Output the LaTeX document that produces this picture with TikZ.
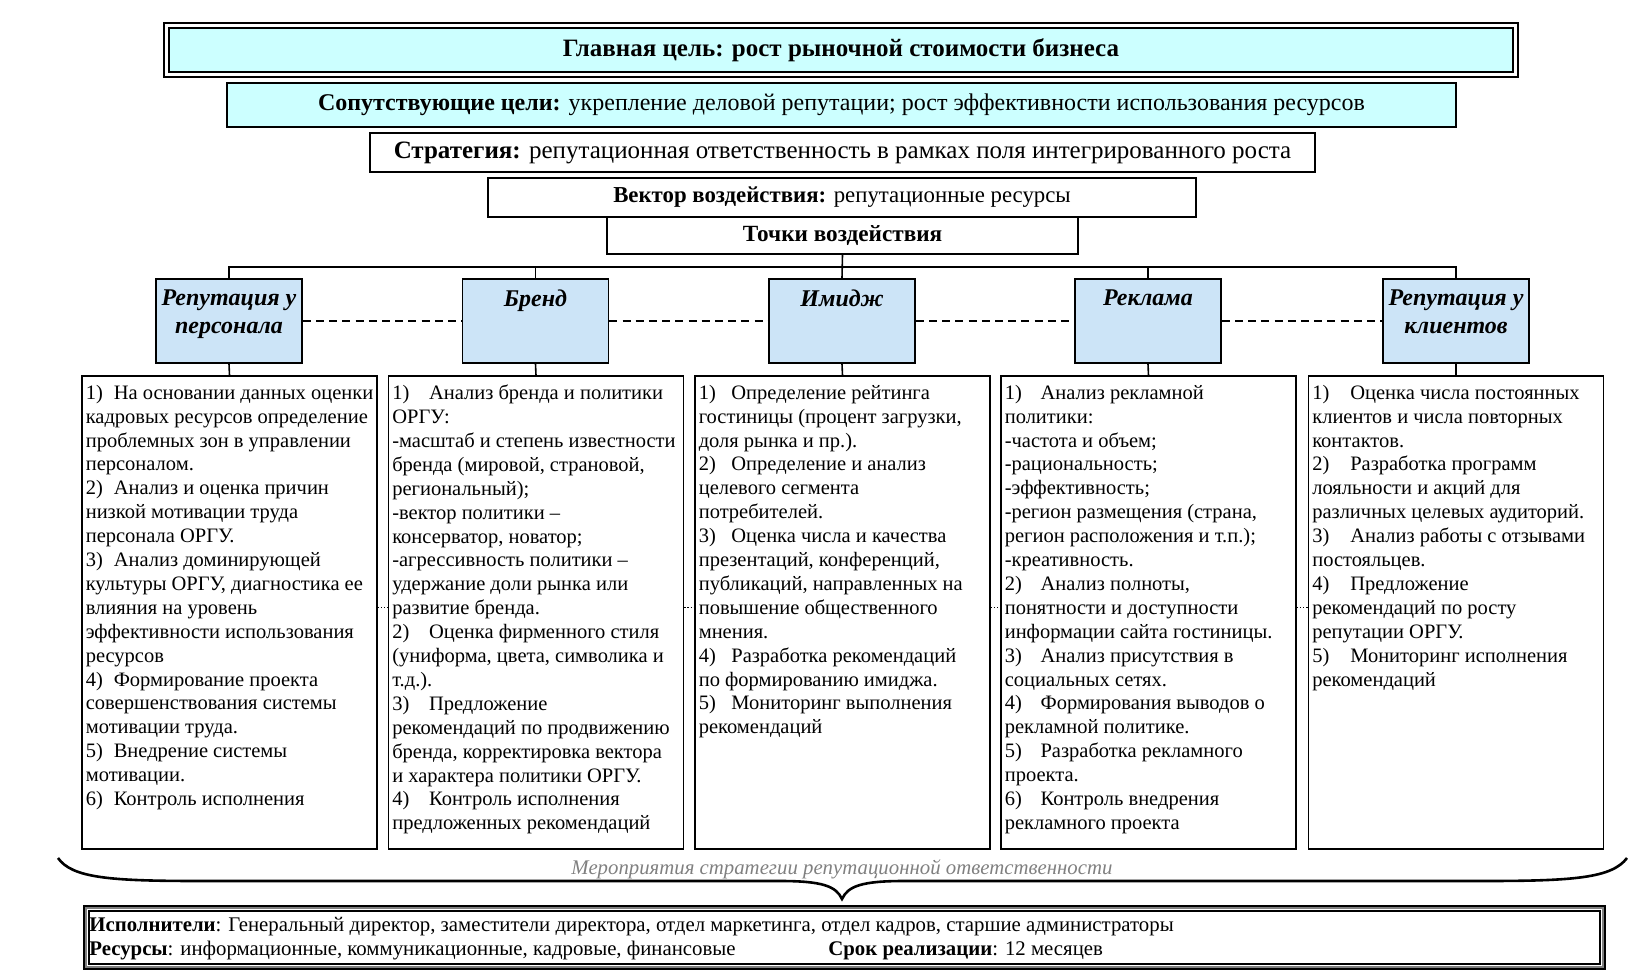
\documentclass[tikz,border=0pt]{standalone}
\usepackage{fontspec}
\setmainfont{Liberation Serif}
\usetikzlibrary{positioning}

\definecolor{goalcyan}{HTML}{CCFFFF}
\definecolor{pointblue}{HTML}{CCE4F7}
\definecolor{bracegray}{HTML}{808080}

% number of a list item, set in a box of fixed width
\newcommand{\itm}[2]{\makebox[#1][l]{#2)}}

\begin{document}
\begin{tikzpicture}[x=0.5pt,y=-0.5pt,
  hdrbox/.style={draw,inner sep=0pt,font=\fontsize{12}{14}\selectfont},
  ptbox/.style={draw,line width=0.8pt,fill=pointblue,inner sep=0pt,minimum width=73pt,minimum height=42pt},
  ptlabel/.style={align=center,inner sep=0pt,font=\fontsize{12}{14}\selectfont\bfseries\itshape},
  actbox/.style={draw,line width=0.6pt,inner sep=0pt,minimum width=147.5pt,minimum height=236.5pt},
  acttext/.style={anchor=north west,align=left,inner sep=2pt,yshift=-2.6pt,font=\fontsize{10.25}{11.95}\selectfont},
  link/.style={line width=0.8pt},
  dotlink/.style={line width=0.6pt,dash pattern=on 0.7pt off 0.9pt},
  dashlink/.style={line width=0.9pt,dash pattern=on 4pt off 2.6pt},
  restext/.style={anchor=west,inner sep=0pt,font=\fontsize{10.4}{12}\selectfont}]
\useasboundingbox (0,0) rectangle (1651,975);

% goals and strategy
\node[hdrbox,line width=0.6pt,fill=goalcyan,minimum width=672pt,minimum height=22pt,font=\fontsize{12.5}{14}\selectfont] (goal) at (841,50)
  {\textbf{Главная цель: рост рыночной стоимости бизнеса}};
\draw[line width=1.2pt] ([shift={(-2.2pt,2.2pt)}]goal.north west) rectangle ([shift={(2.2pt,-2.2pt)}]goal.south east);
\node[hdrbox,line width=1pt,fill=goalcyan,minimum width=614.5pt,minimum height=22pt] (cogoal) at (841.5,105)
  {\textbf{Сопутствующие цели:} укрепление деловой репутации; рост эффективности использования ресурсов};
\node[hdrbox,line width=0.8pt,fill=white,minimum width=472.5pt,minimum height=19.5pt,font=\fontsize{12.5}{14}\selectfont] (strat) at (842.5,152.5)
  {\textbf{Стратегия:} репутационная ответственность в рамках поля интегрированного роста};
\node[hdrbox,line width=0.6pt,fill=white,minimum width=354pt,minimum height=19.5pt,font=\fontsize{11.4}{13}\selectfont] (vect) at (842,197.5)
  {\textbf{Вектор воздействия:} репутационные ресурсы};
\node[hdrbox,line width=0.6pt,fill=white,minimum width=235.5pt,minimum height=18.5pt,font=\fontsize{11.6}{13}\selectfont] (pts) at (842.5,235.5)
  {\textbf{Точки воздействия}};

% points of influence
\node[ptbox] (p1) at (229,321) {};
\node[ptbox] (p2) at (535.5,321) {};
\node[ptbox] (p3) at (842,321) {};
\node[ptbox] (p4) at (1148,321) {};
\node[ptbox] (p5) at (1456,321) {};
\node[ptlabel,below=5.5pt of p1.north] (l1) {Репутация у\\персонала};
\node[ptlabel,below=5.5pt of p2.north] (l2) {Бренд};
\node[ptlabel,below=5.5pt of p3.north] (l3) {Имидж};
\node[ptlabel,below=5.5pt of p4.north] (l4) {Реклама};
\node[ptlabel,below=5.5pt of p5.north] (l5) {Репутация у\\клиентов};

\coordinate (bus) at (0,267);
\draw[link] (pts.south) -- (p3.north);
\draw[link] (p1.north) -- (p1.north |- bus) -- (p5.north |- bus) -- (p5.north);
\draw[link] (p2.north) -- (p2.north |- bus);
\draw[link] (p4.north) -- (p4.north |- bus);
\draw[dashlink] (p1.east) -- (p2.west);
\draw[dashlink] (p2.east) -- (p3.west);
\draw[dashlink] (p3.east) -- (p4.west);
\draw[dashlink] (p4.east) -- (p5.west);

% measures
\node[actbox] (a1) at (229.5,612.5) {};
\node[actbox] (a2) at (536,612.5) {};
\node[actbox] (a3) at (842.5,612.5) {};
\node[actbox] (a4) at (1148.5,612.5) {};
\node[actbox] (a5) at (1456,612.5) {};
\foreach \i in {1,...,5}
  \draw[link] (p\i.south) -- (a\i.north);
\draw[dotlink] ([yshift=2.7pt]a1.east) -- ([yshift=2.7pt]a2.west);
\draw[dotlink] ([yshift=2.7pt]a2.east) -- ([yshift=2.7pt]a3.west);
\draw[dotlink] ([yshift=2.7pt]a3.east) -- ([yshift=2.7pt]a4.west);
\draw[dotlink] ([yshift=2.7pt]a4.east) -- ([yshift=2.7pt]a5.west);

\node[acttext] (t1) at (a1.north west) {%
\itm{14pt}{1}На основании данных оценки\\
кадровых ресурсов определение\\
проблемных зон в управлении\\
персоналом.\\
\itm{14pt}{2}Анализ и оценка причин\\
низкой мотивации труда\\
персонала ОРГУ.\\
\itm{14pt}{3}Анализ доминирующей\\
культуры ОРГУ, диагностика ее\\
влияния на уровень\\
эффективности использования\\
ресурсов\\
\itm{14pt}{4}Формирование проекта\\
совершенствования системы\\
мотивации труда.\\
\itm{14pt}{5}Внедрение системы\\
мотивации.\\
\itm{14pt}{6}Контроль исполнения};
\node[acttext] (t2) at (a2.north west) {%
\itm{18.4pt}{1}Анализ бренда и политики\\
ОРГУ:\\
-масштаб и степень известности\\
бренда (мировой, страновой,\\
региональный);\\
-вектор политики –\\
консерватор, новатор;\\
-агрессивность политики –\\
удержание доли рынка или\\
развитие бренда.\\
\itm{18.4pt}{2}Оценка фирменного стиля\\
(униформа, цвета, символика и\\
т.д.).\\
\itm{18.4pt}{3}Предложение\\
рекомендаций по продвижению\\
бренда, корректировка вектора\\
и характера политики ОРГУ.\\
\itm{18.4pt}{4}Контроль исполнения\\
предложенных рекомендаций};
\node[acttext] (t3) at (a3.north west) {%
\itm{16.3pt}{1}Определение рейтинга\\
гостиницы (процент загрузки,\\
доля рынка и пр.).\\
\itm{16.3pt}{2}Определение и анализ\\
целевого сегмента\\
потребителей.\\
\itm{16.3pt}{3}Оценка числа и качества\\
презентаций, конференций,\\
публикаций, направленных на\\
повышение общественного\\
мнения.\\
\itm{16.3pt}{4}Разработка рекомендаций\\
по формированию имиджа.\\
\itm{16.3pt}{5}Мониторинг выполнения\\
рекомендаций};
\node[acttext] (t4) at (a4.north west) {%
\itm{17.9pt}{1}Анализ рекламной\\
политики:\\
-частота и объем;\\
-рациональность;\\
-эффективность;\\
-регион размещения (страна,\\
регион расположения и т.п.);\\
-креативность.\\
\itm{17.9pt}{2}Анализ полноты,\\
понятности и доступности\\
информации сайта гостиницы.\\
\itm{17.9pt}{3}Анализ присутствия в\\
социальных сетях.\\
\itm{17.9pt}{4}Формирования выводов о\\
рекламной политике.\\
\itm{17.9pt}{5}Разработка рекламного\\
проекта.\\
\itm{17.9pt}{6}Контроль внедрения\\
рекламного проекта};
\node[acttext] (t5) at (a5.north west) {%
\itm{19pt}{1}Оценка числа постоянных\\
клиентов и числа повторных\\
контактов.\\
\itm{19pt}{2}Разработка программ\\
лояльности и акций для\\
различных целевых аудиторий.\\
\itm{19pt}{3}Анализ работы с отзывами\\
постояльцев.\\
\itm{19pt}{4}Предложение\\
рекомендаций по росту\\
репутации ОРГУ.\\
\itm{19pt}{5}Мониторинг исполнения\\
рекомендаций};

% brace
\draw[line width=1.3pt] (58,858) .. controls (72,878) and (110,881) .. (200,881) -- (780,881)
  .. controls (822,881) and (836,886) .. (842,899) .. controls (848,886) and (862,881) .. (904,881)
  -- (1484,881) .. controls (1574,881) and (1612,878) .. (1627,858);
\node[inner sep=0pt,text=bracegray,font=\fontsize{10.4}{12}\selectfont\itshape] (brlabel) at (842,869)
  {Мероприятия стратегии репутационной ответственности};

% performers and resources
\node[draw,line width=0.6pt,fill=white,inner sep=0pt,minimum width=755.5pt,minimum height=26.5pt] (res) at (844.5,937.5) {};
\draw[gray,line width=1pt] ([shift={(-1pt,1pt)}]res.north west) rectangle ([shift={(1pt,-1pt)}]res.south east);
\draw[line width=1.2pt] ([shift={(-2.3pt,2.3pt)}]res.north west) rectangle ([shift={(2.3pt,-2.3pt)}]res.south east);
\node[restext] (execs) at (89,926.5) {\textbf{Исполнители}: Генеральный директор, заместители директора, отдел маркетинга, отдел кадров, старшие администраторы};
\node[restext] (resrc) at (89,950.5) {\textbf{Ресурсы}: информационные, коммуникационные, кадровые, финансовые};
\node[restext] (term) at (828,950.5) {\textbf{Срок реализации}: 12 месяцев};
\end{tikzpicture}
\end{document}
